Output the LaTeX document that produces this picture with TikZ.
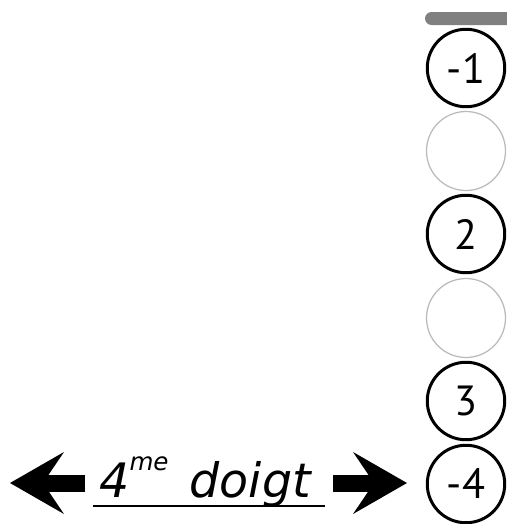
\documentclass[tikz,border=0pt]{standalone}
\usepackage{fontspec}
\usepackage{tikz}
\usetikzlibrary{arrows.meta}
\newfontfamily\numfont{PT Sans}
\newfontfamily\lblfont{DejaVu Sans}

\begin{document}
\begin{tikzpicture}[x=0.02cm,y=-0.02cm]
    \tikzstyle{hole}=[circle,draw,line width=1.7pt,minimum size=1.55cm,inner sep=0pt,font=\numfont\fontsize{24}{24}\selectfont]
    \tikzstyle{ghost}=[circle,draw=gray!55,line width=0.7pt,minimum size=1.58cm,inner sep=0pt]
    \tikzstyle{bigarrow}=[line width=0.34cm,-{Stealth[length=1.08cm,width=1.24cm,inset=0.42cm,line width=0pt]}]

    \clip (0,0) rectangle (507,524);

    % nut
    \fill[gray,rounded corners=0.13cm] (425,12) rectangle (520,25);

    % column of holes
    \node[hole]  (h1) at (466,68)  {-1};
    \node[ghost] (h2) at (466,151) {};
    \node[hole]  (h3) at (466,234) {2};
    \node[ghost] (h4) at (466,318) {};
    \node[hole]  (h5) at (466,401) {3};
    \node[hole]  (h6) at (466,484) {-4};

    % finger label
    \node[anchor=base west,inner sep=0pt,font=\lblfont\itshape\fontsize{27}{27}\selectfont] (finger) at (99,497)
        {4\raisebox{0.54cm}{\fontsize{14}{14}\selectfont me}\hspace{0.12cm} doigt};
    \coordinate (ul1) at (93,506);
    \coordinate (ul2) at (325,506);
    \draw[line width=0.055cm] (ul1) -- (ul2);

    \coordinate (lend) at (85,483);
    \coordinate (ltip) at (10,483);
    \coordinate (rend) at (333,483);
    \coordinate (rtip) at (407,483);
    \draw[bigarrow] (lend) -- (ltip);
    \draw[bigarrow] (rend) -- (rtip);
\end{tikzpicture}
\end{document}
